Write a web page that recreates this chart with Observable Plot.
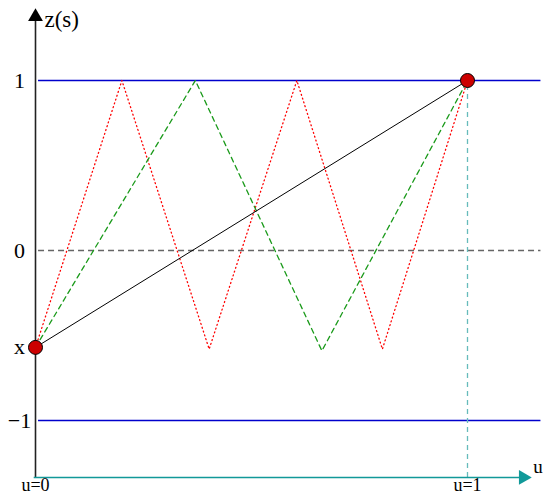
<!DOCTYPE html>
<html><head><meta charset="utf-8">
<script src="https://cdn.jsdelivr.net/npm/d3@7"></script>
<script src="https://cdn.jsdelivr.net/npm/@observablehq/plot@0.6"></script>
<style>body{margin:0;background:#fff} svg text{font-family:'Liberation Serif','DejaVu Serif',serif !important}</style>
</head><body><div id="chart"></div>
<script>
const xStart = -0.57;
const blackPath = [{u:0,z:xStart},{u:1,z:1}];
const greenPath = [{u:0,z:xStart},{u:0.37,z:1},{u:0.663,z:-0.59},{u:1,z:1}];
const redPath = [{u:0,z:xStart},{u:0.2,z:1},{u:0.402,z:-0.58},{u:0.605,z:1},{u:0.803,z:-0.58},{u:1,z:1}];
const endpoints = [{u:0,z:xStart},{u:1,z:1}];
const yTickValues = [1, 0, xStart, -1];
const yTickLabels = ["1", "0", "x", "\u22121"];
const uTickValues = [0, 1];
const uTickLabels = ["u=0", "u=1"];
const axisBottom = -1.335, axisTop = 1.41, uAxisEnd = 1.147, lineEnd = 1.17;

const yTicks = yTickValues.map((v,i)=>({z:v,label:yTickLabels[i]}));
const uTicks = uTickValues.map((v,i)=>({u:v,label:uTickLabels[i]}));
const serif = "'Liberation Serif', serif";

const plot = Plot.plot({
  width: 543, height: 497,
  margin: 0,
  x: {domain:[0,1], range:[35,467], axis:null},
  y: {domain:[-1,1], range:[420,80], axis:null},
  style: {fontFamily: serif, background: "#fff"},
  marks: [
    Plot.ruleY([1,-1], {x1:0.007, x2:lineEnd, stroke:"#0000cc", strokeWidth:1.3}),
    Plot.ruleY([0], {x1:0.007, x2:lineEnd, stroke:"#666", strokeWidth:1.3, strokeDasharray:"6,4"}),
    Plot.ruleX([1], {y1:axisBottom, y2:1, stroke:"#66bbbb", strokeWidth:1.3, strokeDasharray:"5,4"}),
    Plot.line(redPath, {x:"u", y:"z", stroke:"#ff0000", strokeWidth:1.3, strokeDasharray:"1,3"}),
    Plot.line(greenPath, {x:"u", y:"z", stroke:"#1a9a1a", strokeWidth:1.3, strokeDasharray:"5,4"}),
    Plot.line(blackPath, {x:"u", y:"z", stroke:"#000", strokeWidth:1}),
    Plot.ruleX([0], {y1:axisBottom, y2:axisTop - 0.05, stroke:"#222", strokeWidth:1.6}),
    Plot.ruleY([axisBottom], {x1:-0.003, x2:uAxisEnd - 0.02, stroke:"#119999", strokeWidth:1.6}),
    Plot.dot([{u:0, z:axisTop - 0.035}], {x:"u", y:"z", symbol:"triangle", r:5.5, fill:"#000", stroke:"none"}),
    Plot.dot([{u:uAxisEnd - 0.018, z:axisBottom}], {x:"u", y:"z", symbol:"triangle", rotate:90, r:5.5, fill:"#119999", stroke:"none"}),
    Plot.dot(endpoints, {x:"u", y:"z", r:7, fill:"#cc0000", stroke:"#000", strokeWidth:1}),
    Plot.text(yTicks, {x:0, y:"z", text:"label", dx:-16, textAnchor:"middle", fontSize:22, fontFamily:serif, fill:"#000"}),
    Plot.text(uTicks, {x:"u", y:axisBottom, text:"label", dy:8, textAnchor:"middle", fontSize:18, fontFamily:serif, fill:"#000"}),
    Plot.text(["z(s)"], {x:0, y:axisTop, text:d=>d, dx:9, dy:9, textAnchor:"start", fontSize:23, fontFamily:serif, fill:"#000"}),
    Plot.text(["u"], {x:uAxisEnd, y:axisBottom, text:d=>d, dx:7, dy:-11, textAnchor:"middle", fontSize:19, fontFamily:serif, fill:"#000"})
  ]
});
document.getElementById("chart").appendChild(plot);
</script>
</body></html>
